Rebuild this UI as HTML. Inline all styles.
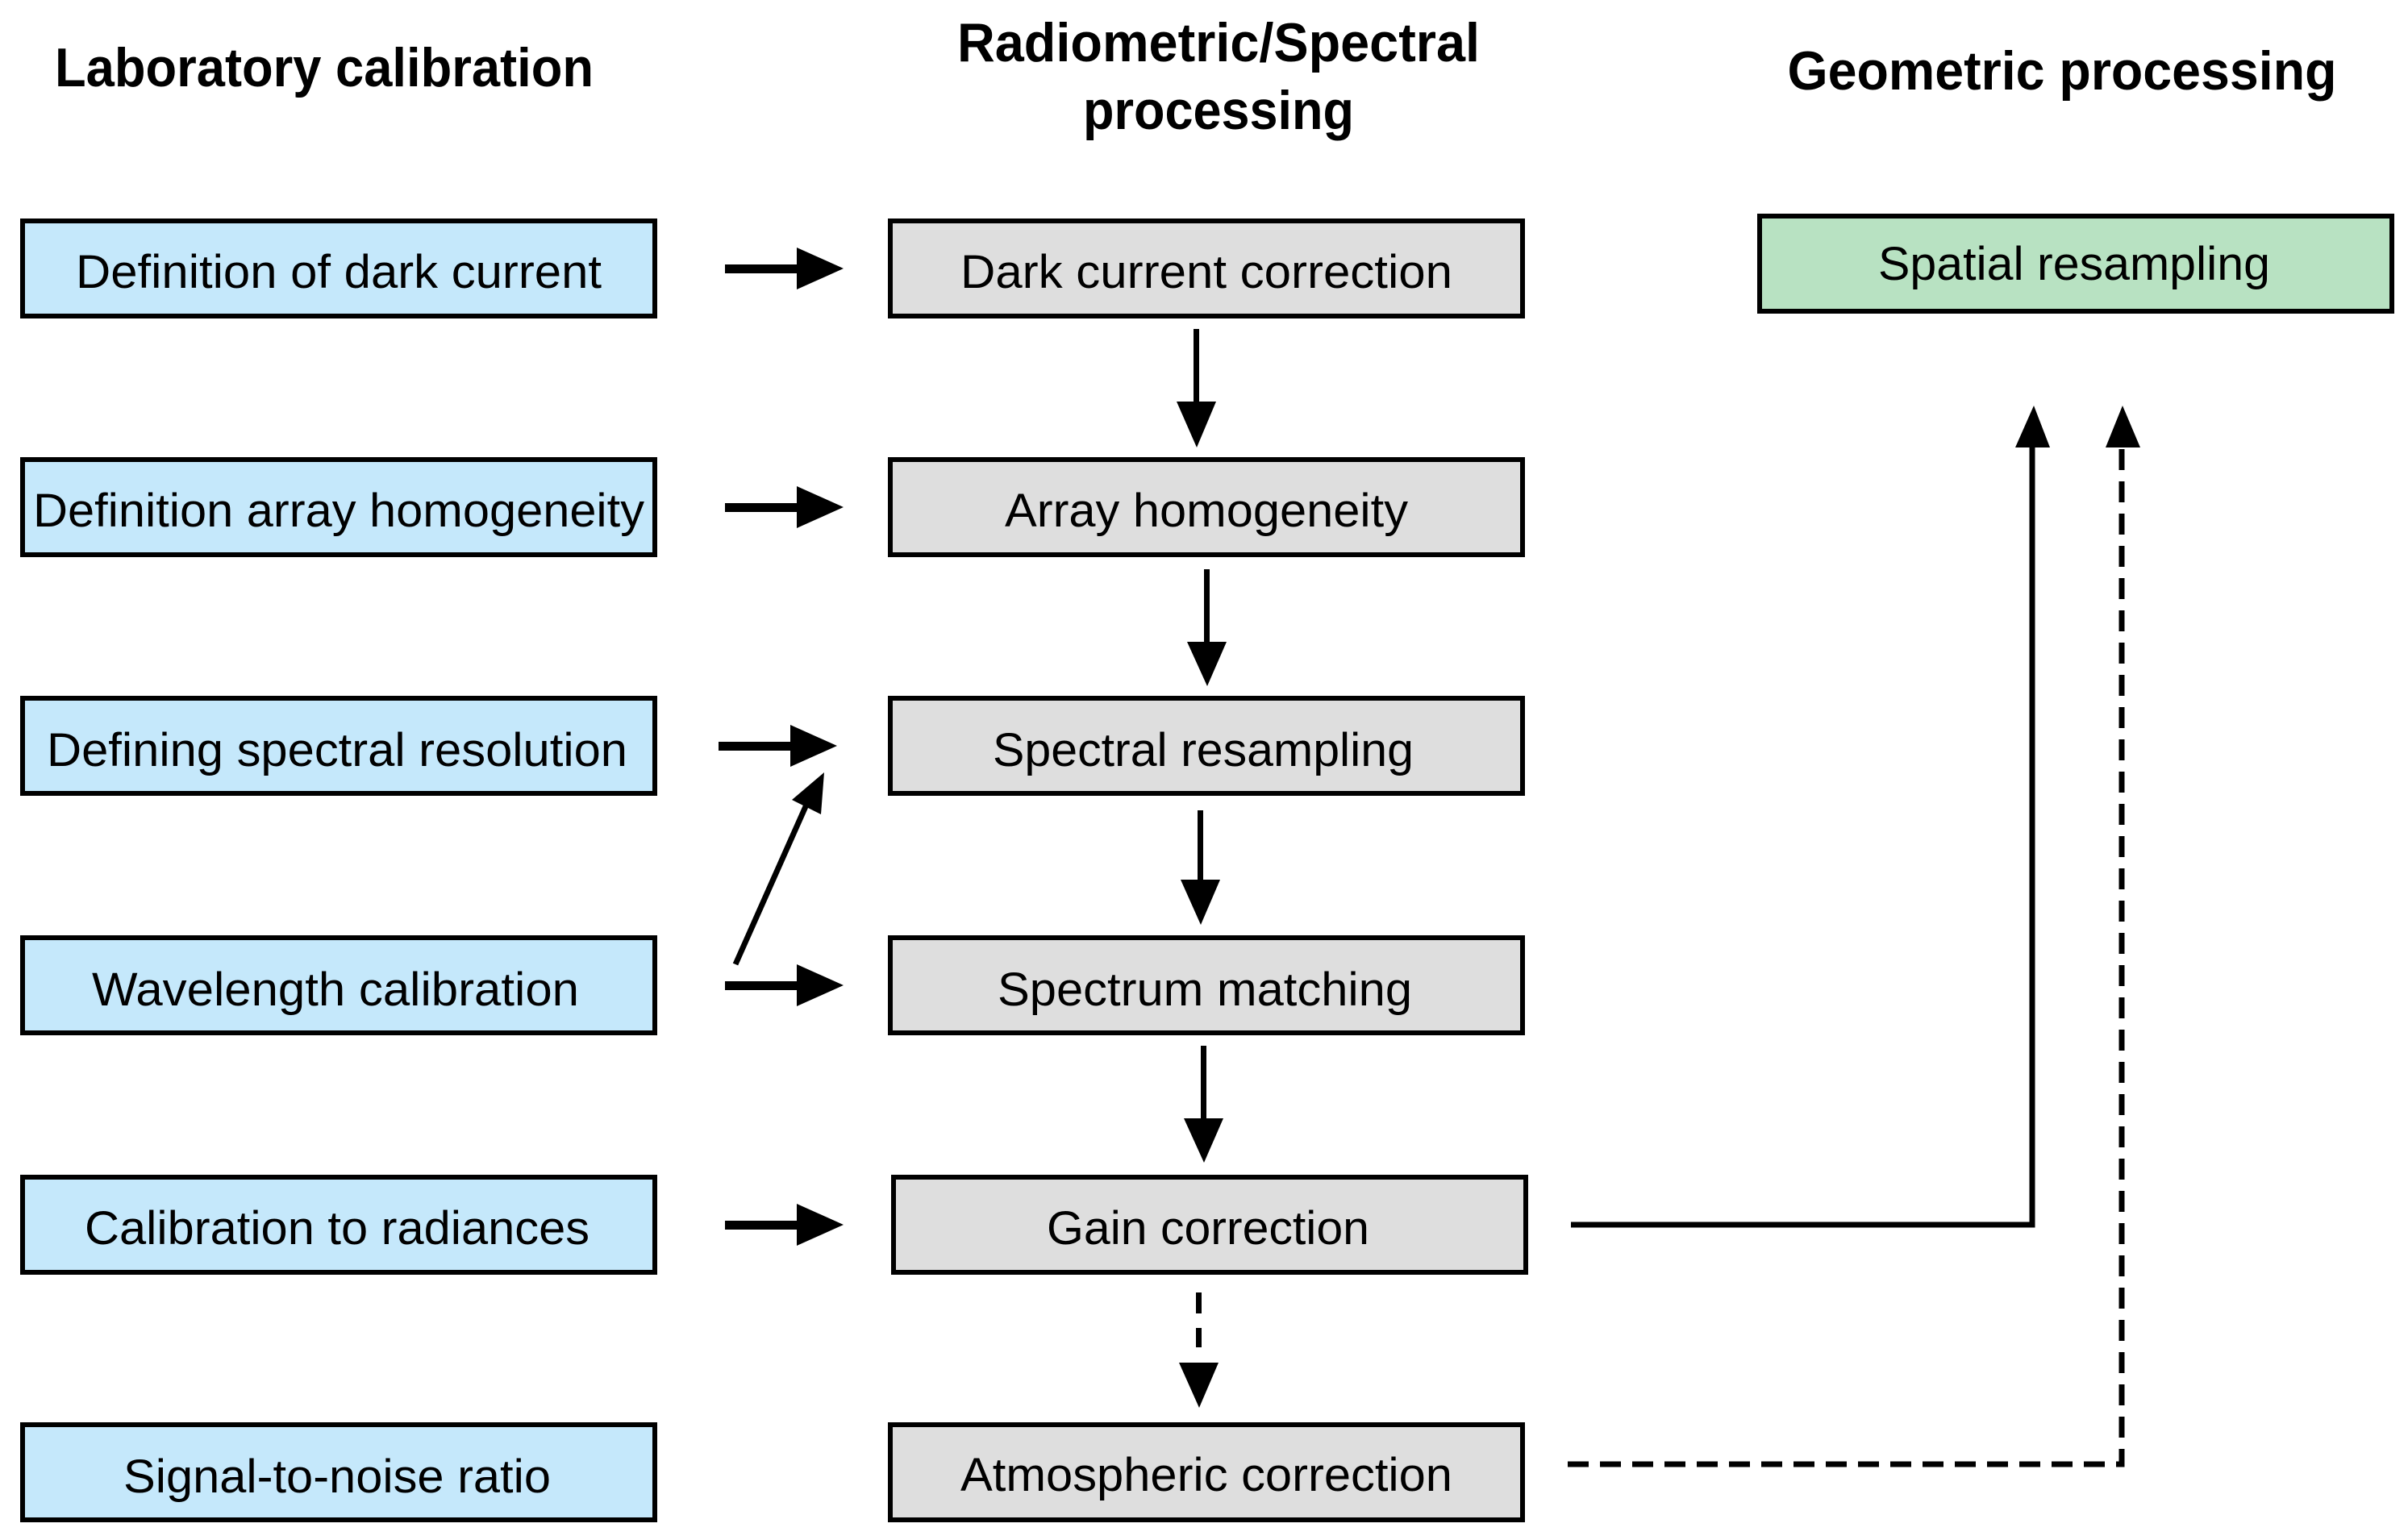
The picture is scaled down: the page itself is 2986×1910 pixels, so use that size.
<!DOCTYPE html>
<html><head><meta charset="utf-8"><style>html,body{margin:0;padding:0;background:#fff}svg{display:block}</style></head>
<body>
<svg width="2986" height="1910" viewBox="0 0 2986 1910" xmlns="http://www.w3.org/2000/svg" font-family="'Liberation Sans', sans-serif">
<g font-weight="bold" font-size="68" text-anchor="middle" fill="#000">
<text x="402" y="107" textLength="668" lengthAdjust="spacingAndGlyphs">Laboratory calibration</text>
<text x="1511" y="76" textLength="648" lengthAdjust="spacingAndGlyphs">Radiometric/Spectral</text>
<text x="1511" y="160" textLength="336" lengthAdjust="spacingAndGlyphs">processing</text>
<text x="2557" y="111" textLength="681" lengthAdjust="spacingAndGlyphs">Geometric processing</text>
</g>
<g stroke="#000" stroke-width="6">
<rect x="28" y="274" width="784" height="118" fill="#c5e8fb"/>
<rect x="28" y="570" width="784" height="118" fill="#c5e8fb"/>
<rect x="28" y="866" width="784" height="118" fill="#c5e8fb"/>
<rect x="28" y="1163" width="784" height="118" fill="#c5e8fb"/>
<rect x="28" y="1460" width="784" height="118" fill="#c5e8fb"/>
<rect x="28" y="1767" width="784" height="118" fill="#c5e8fb"/>
<rect x="1104" y="274" width="784" height="118" fill="#dedede"/>
<rect x="1104" y="570" width="784" height="118" fill="#dedede"/>
<rect x="1104" y="866" width="784" height="118" fill="#dedede"/>
<rect x="1104" y="1163" width="784" height="118" fill="#dedede"/>
<rect x="1108" y="1460" width="784" height="118" fill="#dedede"/>
<rect x="1104" y="1767" width="784" height="118" fill="#dedede"/>
<rect x="2182" y="268" width="784" height="118" fill="#b8e2c2"/>
</g>
<g font-size="58" text-anchor="middle" fill="#000">
<text x="420" y="357" textLength="652" lengthAdjust="spacingAndGlyphs">Definition of dark current</text>
<text x="420" y="653" textLength="758" lengthAdjust="spacingAndGlyphs">Definition array homogeneity</text>
<text x="418" y="950" textLength="720" lengthAdjust="spacingAndGlyphs">Defining spectral resolution</text>
<text x="416" y="1247" textLength="604" lengthAdjust="spacingAndGlyphs">Wavelength calibration</text>
<text x="418" y="1543" textLength="626" lengthAdjust="spacingAndGlyphs">Calibration to radiances</text>
<text x="418" y="1851" textLength="530" lengthAdjust="spacingAndGlyphs">Signal-to-noise ratio</text>
<text x="1496" y="357" textLength="610" lengthAdjust="spacingAndGlyphs">Dark current correction</text>
<text x="1496" y="653" textLength="500" lengthAdjust="spacingAndGlyphs">Array homogeneity</text>
<text x="1492" y="950" textLength="522" lengthAdjust="spacingAndGlyphs">Spectral resampling</text>
<text x="1494" y="1247" textLength="514" lengthAdjust="spacingAndGlyphs">Spectrum matching</text>
<text x="1498" y="1543" textLength="400" lengthAdjust="spacingAndGlyphs">Gain correction</text>
<text x="1496" y="1849" textLength="610" lengthAdjust="spacingAndGlyphs">Atmospheric correction</text>
<text x="2572" y="347" textLength="486" lengthAdjust="spacingAndGlyphs">Spatial resampling</text>
</g>
<g fill="#000">
<rect x="899" y="328" width="92" height="11"/><path d="M988,307 L1046,333 L988,359 z"/>
<rect x="899" y="624" width="92" height="11"/><path d="M988,603 L1046,629 L988,655 z"/>
<rect x="891" y="920" width="92" height="11"/><path d="M980,899 L1038,925 L980,951 z"/>
<rect x="899" y="1217" width="92" height="11"/><path d="M988,1196 L1046,1222 L988,1248 z"/>
<rect x="899" y="1514" width="92" height="11"/><path d="M988,1493 L1046,1519 L988,1545 z"/>
<rect x="1480" y="408" width="7" height="92"/><path d="M1459,498 L1508,498 L1484,555 z"/>
<rect x="1493" y="706" width="7" height="92"/><path d="M1472,796 L1521,796 L1497,851 z"/>
<rect x="1485" y="1005" width="7" height="88"/><path d="M1464,1091 L1513,1091 L1489,1147 z"/>
<rect x="1489" y="1297" width="7" height="92"/><path d="M1468,1387 L1517,1387 L1493,1442 z"/>
<rect x="1483" y="1603" width="7" height="26"/><rect x="1483" y="1647" width="7" height="24"/>
<path d="M1462,1690 L1511,1690 L1487,1746 z"/>
<path d="M2499,555 L2542,555 L2522,503 z"/>
<path d="M2611,555 L2654,555 L2632,503 z"/>
</g>
<line x1="912" y1="1196" x2="1000" y2="998" stroke="#000" stroke-width="7"/>
<path d="M982,992 L1022,958 L1018,1010 z" fill="#000"/>
<polyline points="1948,1519 2520,1519 2520,550" fill="none" stroke="#000" stroke-width="7"/>
<polyline points="1944,1816 2631,1816 2631,550" fill="none" stroke="#000" stroke-width="7" stroke-dasharray="26,14"/>
</svg>
</body></html>
